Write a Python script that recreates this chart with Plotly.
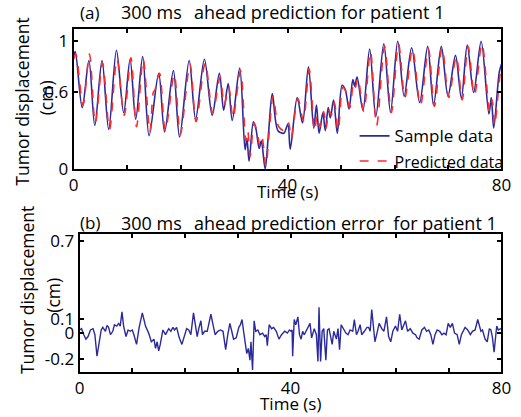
import plotly.graph_objects as go

# ---------------- data ----------------
sample_t = [0.0, 0.3, 1.6, 2.85, 3.95, 5.3, 6.55, 8.0, 9.35, 10.55, 11.6, 12.9, 14.1, 15.9, 17.0,
            18.65, 19.8, 21.6, 22.8, 24.45, 25.9, 27.25, 28.05, 28.9, 29.65, 31.05, 32.05, 32.4,
            32.8, 33.6, 34.1, 34.7, 35.1, 35.8, 36.4, 37.15, 38.2, 39.3, 40.05, 40.5, 41.8, 42.8,
            43.9, 44.9, 45.4, 45.9, 46.6, 47.05, 47.6, 48.0, 48.6, 49.3, 50.2, 50.8, 51.5, 52.2,
            52.55, 53.0, 54.1, 55.35, 56.5, 58.0, 59.25, 60.6, 61.8, 63.2, 64.7, 66.2, 67.3,
            68.75, 70.0, 71.4, 72.5, 73.6, 74.8, 76.2, 77.65, 78.1, 78.55, 79.6, 80.0]
sample_v = [0.88, 0.92, 0.48, 0.85, 0.34, 0.85, 0.31, 0.93, 0.44, 0.86, 0.39, 0.88, 0.26, 0.75, 0.29,
            0.77, 0.25, 0.85, 0.39, 0.86, 0.42, 0.75, 0.46, 0.67, 0.38, 0.79, 0.15, 0.24,
            0.06, 0.37, 0.31, 0.16, 0.22, 0.0, 0.26, 0.59, 0.30, 0.28, 0.35, 0.155, 0.56, 0.36,
            0.80, 0.32, 0.50, 0.28, 0.44, 0.30, 0.48, 0.40, 0.54, 0.28, 0.655, 0.62, 0.47, 0.70,
            0.65, 0.72, 0.46, 0.94, 0.41, 0.98, 0.445, 1.0, 0.57, 0.95, 0.52, 0.96, 0.50,
            0.96, 0.57, 0.89, 0.555, 0.97, 0.60, 1.0, 0.43, 0.56, 0.32, 0.76, 0.82]

pred_t = [0.0, 0.4, 1.75, 2.95, 4.05, 5.4, 6.7, 8.1, 9.45, 10.7, 11.75, 13.0, 14.25, 14.9, 15.2,
          16.05, 17.15, 18.8, 19.95, 21.75, 22.9, 24.6, 26.0, 27.4, 28.15, 29.0, 29.8, 31.2,
          32.2, 32.55, 33.0, 33.75, 34.25, 34.85, 35.25, 35.95, 36.55, 37.3, 38.35, 39.4, 40.2,
          40.65, 41.95, 42.95, 44.05, 45.05, 45.55, 46.05, 46.75, 47.2, 47.75, 48.15, 48.75,
          49.45, 50.35, 50.95, 51.65, 52.35, 52.7, 53.15, 54.25, 55.5, 56.65, 58.15, 59.4,
          60.75, 61.95, 63.35, 64.85, 66.35, 67.45, 68.9, 70.15, 71.55, 72.65, 73.75, 74.95,
          76.35, 77.8, 78.25, 78.7, 79.75, 80.0]
pred_v = [0.86, 0.90, 0.50, 0.90, 0.36, 0.83, 0.31, 0.86, 0.42, 0.87, 0.33, 0.86, 0.29, 0.60, 0.62,
          0.75, 0.30, 0.74, 0.27, 0.82, 0.37, 0.83, 0.44, 0.72, 0.50, 0.64, 0.40, 0.77,
          0.22, 0.30, 0.10, 0.36, 0.30, 0.18, 0.24, 0.02, 0.28, 0.57, 0.33, 0.30, 0.36,
          0.24, 0.55, 0.38, 0.78, 0.30, 0.42, 0.33, 0.45, 0.32, 0.46, 0.42, 0.52,
          0.30, 0.64, 0.60, 0.48, 0.68, 0.64, 0.71, 0.45, 0.92, 0.34, 0.96, 0.44,
          0.98, 0.56, 0.94, 0.50, 0.94, 0.49, 0.95, 0.56, 0.88, 0.54, 0.96, 0.58,
          0.98, 0.45, 0.54, 0.34, 0.74, 0.78]

err_t = [0.0, 0.37, 0.8, 1.2, 1.6, 2.06, 2.55, 2.9, 3.3, 3.7, 4.1, 4.4, 4.9, 5.2, 5.5, 5.85, 6.3,
         6.6, 7.04, 7.4, 7.7, 8.04, 8.35, 8.8, 9.2, 9.6, 10.0, 10.3, 10.8, 11.3, 11.9, 12.5,
         13.1, 13.6, 14.1, 14.4, 14.7, 15.0, 15.3, 15.8, 16.3, 16.9, 17.3, 17.7, 18.0, 18.4,
         18.9, 19.4, 19.9, 20.3, 20.7, 21.1, 21.6, 22.0, 22.3, 22.6, 23.0, 23.3, 23.7, 24.2,
         24.9, 25.3, 25.7, 26.2, 26.7, 27.2, 27.7, 28.1, 28.5, 28.8, 29.2, 29.7, 30.2, 30.5,
         30.8, 31.1, 31.4, 31.7, 32.0, 32.3, 32.5, 32.8, 33.1, 33.4, 33.8, 34.2, 34.7, 35.1,
         35.4, 35.6, 35.95, 36.4, 36.8, 37.3, 37.8, 38.3, 38.9, 39.4, 39.8, 40.1, 40.3, 40.4,
         40.7, 41.0, 41.4, 41.7, 42.0, 42.3, 42.6, 43.0, 43.4, 43.7, 44.0, 44.5, 44.9, 45.2,
         45.4, 45.7, 46.0, 46.3, 46.7, 47.0, 47.3, 47.6, 47.9, 48.2, 48.7, 49.0, 49.3, 49.6,
         50.1, 50.5, 50.9, 51.3, 51.8, 52.1, 52.5, 52.8, 53.2, 53.5, 54.0, 54.5, 54.8, 55.1,
         55.4, 55.7, 56.0, 56.4, 56.8, 57.3, 57.7, 58.2, 58.6, 59.0, 59.4, 59.9, 60.3, 60.7,
         61.1, 61.4, 61.8, 62.2, 62.7, 63.2, 63.7, 64.0, 64.4, 64.9, 65.4, 65.8, 66.2, 66.6,
         67.0, 67.4, 67.8, 68.3, 68.7, 69.1, 69.5, 69.9, 70.3, 70.7, 71.1, 71.6, 72.0, 72.4,
         72.8, 73.1, 73.6, 74.1, 74.5, 75.0, 75.5, 75.8, 76.1, 76.4, 76.9, 77.3, 77.7, 78.0,
         78.3, 78.6, 78.9, 79.1, 79.4, 79.9]
err_v = [0.02, 0.03, -0.016, -0.05, -0.03, 0.02, 0.03, -0.016, -0.18, -0.09, 0.02, 0.04, 0.01, 0.055,
         0.04, -0.016, 0.01, 0.06, 0.05, 0.07, 0.05, 0.158, 0.05, -0.03, 0.02, 0.01, 0.02, -0.016,
         -0.09, 0.04, 0.15, 0.05, -0.004, -0.07, -0.05, -0.12, -0.07, -0.14, -0.09, 0.02, -0.016,
         0.03, 0.01, 0.04, 0.02, 0.04, -0.04, -0.09, -0.016, 0.03, 0.02, -0.016, 0.15, 0.05,
         -0.03, 0.03, 0.09, -0.016, 0.01, 0.01, 0.14, 0.06, -0.016, 0.01, 0.02, 0.01, -0.13,
         -0.016, 0.07, 0.02, -0.05, -0.04, 0.04, 0.06, 0.10, 0.01, -0.07, -0.16, -0.12, -0.21,
         -0.07, -0.285, 0.09, 0.01, 0.02, -0.016, -0.004, -0.03, -0.016, -0.10, 0.06, 0.03, 0.04,
         0.01, -0.05, -0.016, 0.01, -0.004, 0.02, 0.01, 0.02, -0.18, 0.10, 0.06, 0.12, -0.016,
         -0.05, 0.01, -0.016, 0.02, 0.05, 0.07, -0.04, 0.03, -0.016, -0.22, 0.194, -0.22, 0.01,
         0.03, -0.21, 0.02, 0.03, -0.04, -0.09, 0.01, -0.05, 0.03, -0.13, 0.06, 0.02, -0.004,
         -0.016, 0.02, 0.01, 0.10, -0.016, 0.01, 0.06, -0.016, 0.01, 0.04, 0.04, 0.01, 0.175,
         0.06, -0.07, -0.004, 0.07, 0.03, 0.01, 0.12, -0.03, -0.07, 0.01, 0.05, 0.01, 0.14, 0.02,
         0.05, 0.09, 0.01, 0.03, -0.004, -0.016, -0.04, -0.05, 0.02, 0.04, 0.01, 0.02, -0.016,
         -0.09, -0.016, 0.02, 0.01, -0.016, -0.004, -0.016, 0.07, 0.04, 0.07, -0.004, -0.016,
         -0.09, -0.016, 0.01, 0.04, 0.02, -0.016, 0.01, 0.02, 0.10, 0.06, 0.01, 0.02, -0.05,
         -0.07, 0.03, 0.02, -0.04, -0.15, -0.016, 0.05, 0.02, 0.03]

x_tickvals = [0, 10, 20, 30, 40, 50, 60, 70, 80]
x_ticktext = ["0", "", "", "", "40", "", "", "", "80"]
y1_tickvals = [0, 0.6, 1]
y1_ticktext = ["0", "0.6", "1"]
y2_tickvals = [-0.2, 0, 0.1, 0.7]
y2_ticktext = ["-0.2", "0", "0.1", "0.7"]

# ---------------- styling ----------------
W, H = 521, 417
BLUE = "#2a2a9c"
RED = "#ff2a2a"
FONT = "Open Sans"

# the page photo maps figure px -> picture px as X = 1.33 + 0.9853 x, Y = 8 + 0.9592 y
SX, OX, SY, OY = 0.9853, 1.33, 0.9592, 8.0


def px(X):  # target picture x (px) -> paper fraction
    return ((X - OX) / SX) / W


def py(Y):  # target picture y (px, from top) -> paper fraction
    return 1 - ((Y - OY) / SY) / H


fig = go.Figure()
fig.add_trace(go.Scatter(x=sample_t, y=sample_v, mode="lines", name="Sample data",
                         line=dict(color=BLUE, width=1.6, shape="spline", smoothing=0.9),
                         xaxis="x", yaxis="y"))
fig.add_trace(go.Scatter(x=pred_t, y=pred_v, mode="lines",
                         name="<span style='font-size:16px'>Predicted data</span>",
                         line=dict(color=RED, width=1.6, dash="dash", shape="spline", smoothing=0.9),
                         xaxis="x", yaxis="y"))
fig.add_trace(go.Scatter(x=err_t, y=err_v, mode="lines", showlegend=False,
                         line=dict(color=BLUE, width=1.4), xaxis="x2", yaxis="y2"))

axis_common = dict(showline=True, linewidth=2, linecolor="black", mirror="ticks",
                   ticks="inside", ticklen=4, tickwidth=1.5, tickcolor="black",
                   showgrid=False, zeroline=False,
                   tickfont=dict(family=FONT, size=17, color="black"))

fig.update_layout(
    width=W, height=H,
    autosize=False,
    margin=dict(l=0, r=0, t=0, b=0),
    paper_bgcolor="white", plot_bgcolor="white",
    font=dict(family=FONT, color="black"),
    xaxis=dict(domain=[px(71), px(505)], anchor="y", range=[0, 80],
               tickvals=x_tickvals, ticktext=x_ticktext, **axis_common),
    yaxis=dict(domain=[py(171.5), py(31.5)], anchor="x", range=[0, 1.1],
               tickvals=y1_tickvals, ticktext=y1_ticktext, **axis_common),
    xaxis2=dict(domain=[px(77), px(505)], anchor="y2", range=[0, 80],
                tickvals=x_tickvals, ticktext=x_ticktext, **axis_common),
    yaxis2=dict(domain=[py(374), py(236.7)], anchor="x2", range=[-0.3, 0.75],
                tickvals=y2_tickvals, ticktext=y2_ticktext, **axis_common),
    showlegend=True,
    legend=dict(x=px(356), y=py(121), xanchor="left", yanchor="top",
                bgcolor="rgba(0,0,0,0)", borderwidth=0,
                font=dict(family=FONT, size=17, color="black"),
                itemwidth=30, tracegroupgap=0),
)

ann = []


def text(x, y, s, size=16, xanchor="center", angle=0):
    ann.append(dict(x=px(x), y=py(y), xref="paper", yref="paper", text=s, showarrow=False,
                    xanchor=xanchor, yanchor="middle", textangle=angle,
                    font=dict(family=FONT, size=size, color="black")))


# titles
text(75, 15, "(a)", 17, "left")
text(117, 15, "300 ms", 18, "left")
text(191, 15, "ahead prediction for patient 1", 18, "left")
text(75, 225, "(b)", 17, "left")
text(117, 225, "300 ms", 18, "left")
text(191, 225, "ahead prediction error  for patient 1", 18, "left")
# axis titles
text(19, 104, "Tumor displacement", 17.5, angle=-90)
text(43, 101, "(cm)", 17.5, angle=-90)
text(23, 292, "Tumor displacement", 17.5, angle=-90)
text(50, 297, "(cm)", 17.5, angle=-90)
text(288, 194, "Time (s)", 17)
text(291, 405, "Time (s)", 17)

fig.update_layout(annotations=ann)
fig.write_html("out.html", config={"responsive": False, "displayModeBar": False},
               post_script="document.body.style.margin='0';document.body.style.overflow='hidden';")
